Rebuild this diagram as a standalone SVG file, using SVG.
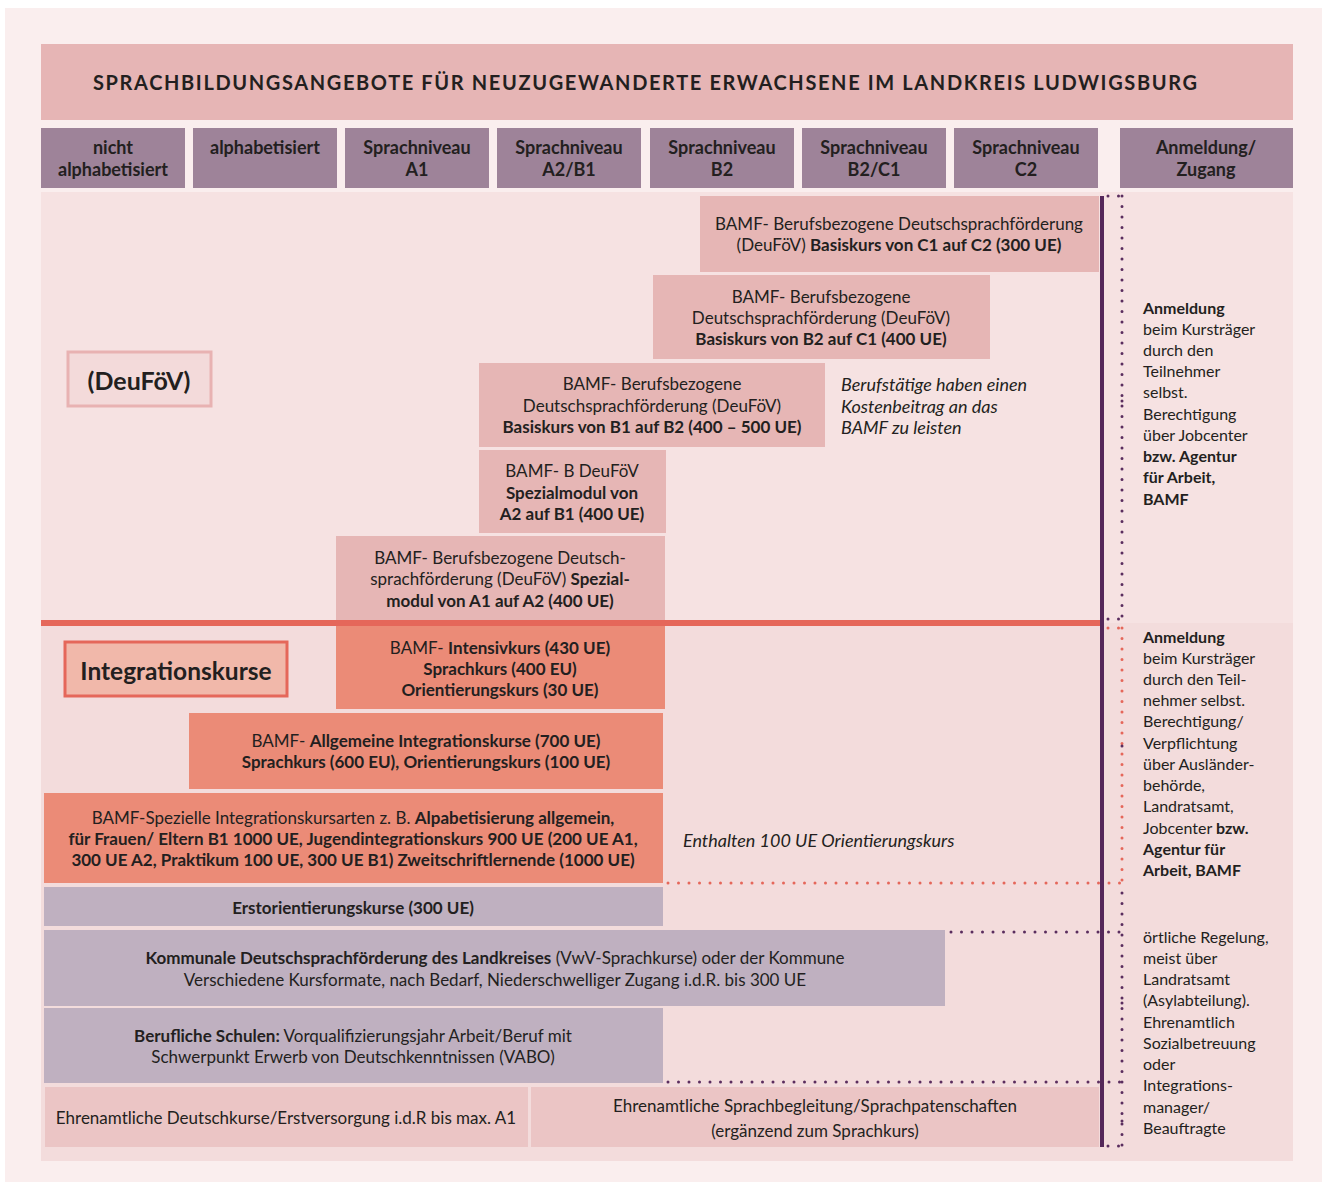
<svg xmlns="http://www.w3.org/2000/svg" width="1327" height="1184" viewBox="0 0 1327 1184">
<style>
text{font-family:Lato,"Open Sans","Liberation Sans",sans-serif;fill:#231f20;font-size:17px}
.c{text-anchor:middle}
.b{font-weight:bold}
.h{font-weight:bold;font-size:18px;text-anchor:middle}
.i{font-style:italic;font-size:18px}
.r{font-size:16px}
.hdr{fill:#9e8399}
.deu{fill:#e6b6b5}
.int{fill:#eb8b77}
.gry{fill:#bfb0c0}
.ehr{fill:#ebc5c5}
.dp{fill:none;stroke:#5a2d5e;stroke-width:3;stroke-linecap:round;stroke-dasharray:0 10.5}
.dr{fill:none;stroke:#e5675a;stroke-width:3;stroke-linecap:round;stroke-dasharray:0 10.5}
</style>
<rect x="5" y="8" width="1317" height="1174" fill="#faeeee"/>
<rect x="41" y="192" width="1252" height="431" fill="#f6e2e2"/>
<rect x="41" y="623" width="1252" height="538" fill="#f3dcdc"/>
<g id="title">
<rect x="41" y="44" width="1252" height="76" fill="#e6b5b5"/>
<text x="645" y="90" class="c b" textLength="1104" lengthAdjust="spacing" style="font-size:20px">SPRACHBILDUNGSANGEBOTE FÜR NEUZUGEWANDERTE ERWACHSENE IM LANDKREIS LUDWIGSBURG</text>
</g>
<g id="header">
<rect class="hdr" x="41" y="128" width="144" height="60"/>
<rect class="hdr" x="193" y="128" width="144" height="60"/>
<rect class="hdr" x="345" y="128" width="144" height="60"/>
<rect class="hdr" x="497" y="128" width="144" height="60"/>
<rect class="hdr" x="650" y="128" width="144" height="60"/>
<rect class="hdr" x="802" y="128" width="144" height="60"/>
<rect class="hdr" x="954" y="128" width="144" height="60"/>
<rect class="hdr" x="1120" y="128" width="173" height="60"/>
<text class="h" x="113" y="154">nicht</text><text class="h" x="113" y="176">alphabetisiert</text>
<text class="h" x="265" y="154">alphabetisiert</text>
<text class="h" x="417" y="154">Sprachniveau</text><text class="h" x="417" y="176">A1</text>
<text class="h" x="569" y="154">Sprachniveau</text><text class="h" x="569" y="176">A2/B1</text>
<text class="h" x="722" y="154">Sprachniveau</text><text class="h" x="722" y="176">B2</text>
<text class="h" x="874" y="154">Sprachniveau</text><text class="h" x="874" y="176">B2/C1</text>
<text class="h" x="1026" y="154">Sprachniveau</text><text class="h" x="1026" y="176">C2</text>
<text class="h" x="1206" y="154">Anmeldung/</text><text class="h" x="1206" y="176">Zugang</text>
</g>
<g id="label-deufoev">
<rect x="68" y="352" width="143" height="54" fill="#f3dada" stroke="#e8b2b2" stroke-width="3"/>
<text class="c b" x="139" y="390" style="font-size:25px">(DeuFöV)</text>
</g>
<g id="label-integration">
<rect x="65" y="642" width="222" height="54" fill="#f1b8aa" stroke="#e5675a" stroke-width="3"/>
<text class="c b" x="176" y="680" style="font-size:24.5px">Integrationskurse</text>
</g>
<g id="deufoev-c1c2">
<rect class="deu" x="700" y="196" width="399" height="76"/>
<text class="c" x="899" y="230">BAMF- Berufsbezogene Deutschsprachförderung</text>
<text class="c" x="899" y="251">(DeuFöV) <tspan class="b">Basiskurs von C1 auf C2 (300 UE)</tspan></text>
</g>
<g id="deufoev-b2c1">
<rect class="deu" x="653" y="275" width="337" height="84"/>
<text class="c" x="821" y="303">BAMF- Berufsbezogene</text>
<text class="c" x="821" y="324">Deutschsprachförderung (DeuFöV)</text>
<text class="c b" x="821" y="345">Basiskurs von B2 auf C1 (400 UE)</text>
</g>
<g id="deufoev-b1b2">
<rect class="deu" x="479" y="363" width="346" height="84"/>
<text class="c" x="652" y="390">BAMF- Berufsbezogene</text>
<text class="c" x="652" y="412">Deutschsprachförderung (DeuFöV)</text>
<text class="c b" x="652" y="433">Basiskurs von B1 auf B2 (400 – 500 UE)</text>
</g>
<g id="note-kosten">
<text class="i" x="841" y="391">Berufstätige haben einen</text>
<text class="i" x="841" y="413">Kostenbeitrag an das</text>
<text class="i" x="841" y="434">BAMF zu leisten</text>
</g>
<g id="deufoev-a2b1">
<rect class="deu" x="479" y="450" width="187" height="83"/>
<text class="c" x="572" y="477">BAMF- B DeuFöV</text>
<text class="c b" x="572" y="499">Spezialmodul von</text>
<text class="c b" x="572" y="520">A2 auf B1 (400 UE)</text>
</g>
<g id="deufoev-a1a2">
<rect class="deu" x="336" y="536" width="329" height="86"/>
<text class="c" x="500" y="564">BAMF- Berufsbezogene Deutsch-</text>
<text class="c" x="500" y="585">sprachförderung (DeuFöV) <tspan class="b">Spezial-</tspan></text>
<text class="c b" x="500" y="607">modul von A1 auf A2 (400 UE)</text>
</g>
<g id="int-intensiv">
<rect class="int" x="336" y="624" width="329" height="85"/>
<text class="c" x="500" y="654">BAMF- <tspan class="b">Intensivkurs (430 UE)</tspan></text>
<text class="c b" x="500" y="675">Sprachkurs (400 EU)</text>
<text class="c b" x="500" y="696">Orientierungskurs (30 UE)</text>
</g>
<g id="int-allgemein">
<rect class="int" x="189" y="713" width="474" height="76"/>
<text class="c" x="426" y="747">BAMF- <tspan class="b">Allgemeine Integrationskurse (700 UE)</tspan></text>
<text class="c b" x="426" y="768">Sprachkurs (600 EU), Orientierungskurs (100 UE)</text>
</g>
<g id="int-speziell">
<rect class="int" x="44" y="793" width="619" height="90"/>
<text class="c" x="353" y="824">BAMF-Spezielle Integrationskursarten z. B. <tspan class="b">Alpabetisierung allgemein,</tspan></text>
<text class="c b" x="353" y="845">für Frauen/ Eltern B1 1000 UE, Jugendintegrationskurs 900 UE (200 UE A1,</text>
<text class="c b" x="353" y="866">300 UE A2, Praktikum 100 UE, 300 UE B1) Zweitschriftlernende (1000 UE)</text>
</g>
<g id="note-orientierung">
<text class="i" x="683" y="847">Enthalten 100 UE Orientierungskurs</text>
</g>
<g id="erstorientierung">
<rect class="gry" x="44" y="887" width="619" height="39"/>
<text class="c b" x="353" y="914">Erstorientierungskurse (300 UE)</text>
</g>
<g id="kommunal">
<rect class="gry" x="44" y="930" width="901" height="76"/>
<text class="c" x="495" y="964"><tspan class="b">Kommunale Deutschsprachförderung des Landkreises</tspan> (VwV-Sprachkurse) oder der Kommune</text>
<text class="c" x="495" y="986">Verschiedene Kursformate, nach Bedarf, Niederschwelliger Zugang i.d.R. bis 300 UE</text>
</g>
<g id="berufliche-schulen">
<rect class="gry" x="44" y="1008" width="619" height="75"/>
<text class="c" x="353" y="1042"><tspan class="b">Berufliche Schulen:</tspan> Vorqualifizierungsjahr Arbeit/Beruf mit</text>
<text class="c" x="353" y="1063">Schwerpunkt Erwerb von Deutschkenntnissen (VABO)</text>
</g>
<g id="ehrenamt-kurse">
<rect class="ehr" x="45" y="1087" width="483" height="60"/>
<text class="c" x="286" y="1124">Ehrenamtliche Deutschkurse/Erstversorgung i.d.R bis max. A1</text>
</g>
<g id="ehrenamt-begleitung">
<rect class="ehr" x="531" y="1087" width="568" height="60"/>
<text class="c" x="815" y="1112">Ehrenamtliche Sprachbegleitung/Sprachpatenschaften</text>
<text class="c" x="815" y="1137">(ergänzend zum Sprachkurs)</text>
</g>
<g id="zugang-deufoev" class="r">
<text x="1143" y="314" class="r b">Anmeldung</text>
<text x="1143" y="335" class="r">beim Kursträger</text>
<text x="1143" y="356" class="r">durch den</text>
<text x="1143" y="377" class="r">Teilnehmer</text>
<text x="1143" y="398" class="r">selbst.</text>
<text x="1143" y="420" class="r">Berechtigung</text>
<text x="1143" y="441" class="r">über Jobcenter</text>
<text x="1143" y="462" class="r b">bzw. Agentur</text>
<text x="1143" y="483" class="r b">für Arbeit,</text>
<text x="1143" y="505" class="r b">BAMF</text>
</g>
<g id="zugang-integration">
<text x="1143" y="643" class="r b">Anmeldung</text>
<text x="1143" y="664" class="r">beim Kursträger</text>
<text x="1143" y="685" class="r">durch den Teil-</text>
<text x="1143" y="706" class="r">nehmer selbst.</text>
<text x="1143" y="727" class="r">Berechtigung/</text>
<text x="1143" y="749" class="r">Verpflichtung</text>
<text x="1143" y="770" class="r">über Ausländer-</text>
<text x="1143" y="791" class="r">behörde,</text>
<text x="1143" y="812" class="r">Landratsamt,</text>
<text x="1143" y="834" class="r">Jobcenter <tspan class="b">bzw.</tspan></text>
<text x="1143" y="855" class="r b">Agentur für</text>
<text x="1143" y="876" class="r b">Arbeit, BAMF</text>
</g>
<g id="zugang-sonstige">
<text x="1143" y="943" class="r">örtliche Regelung,</text>
<text x="1143" y="964" class="r">meist über</text>
<text x="1143" y="985" class="r">Landratsamt</text>
<text x="1143" y="1006" class="r">(Asylabteilung).</text>
<text x="1143" y="1028" class="r">Ehrenamtlich</text>
<text x="1143" y="1049" class="r">Sozialbetreuung</text>
<text x="1143" y="1070" class="r">oder</text>
<text x="1143" y="1091" class="r">Integrations-</text>
<text x="1143" y="1113" class="r">manager/</text>
<text x="1143" y="1134" class="r">Beauftragte</text>
</g>
<g id="connectors">
<line x1="41" y1="623" x2="1100" y2="623" stroke="#e5675a" stroke-width="6"/>
<line x1="1102" y1="196" x2="1102" y2="1147" stroke="#55285a" stroke-width="4"/>
<path class="dp" d="M1122 196V619"/>
<path class="dr" d="M1122 628V883"/>
<path class="dp" d="M1122 893V1146"/>
<path class="dp" d="M1108 196H1122M1108 619H1122M1108 1146H1122M1122 401H1132M1122 746H1132M1122 1003H1132M1122 1121H1132"/>
<path class="dr" d="M1108 628H1122"/>
<path class="dr" d="M668 883H1122"/>
<path class="dp" d="M951 932H1122"/>
<path class="dp" d="M668 1082H1122"/>
</g>
</svg>
